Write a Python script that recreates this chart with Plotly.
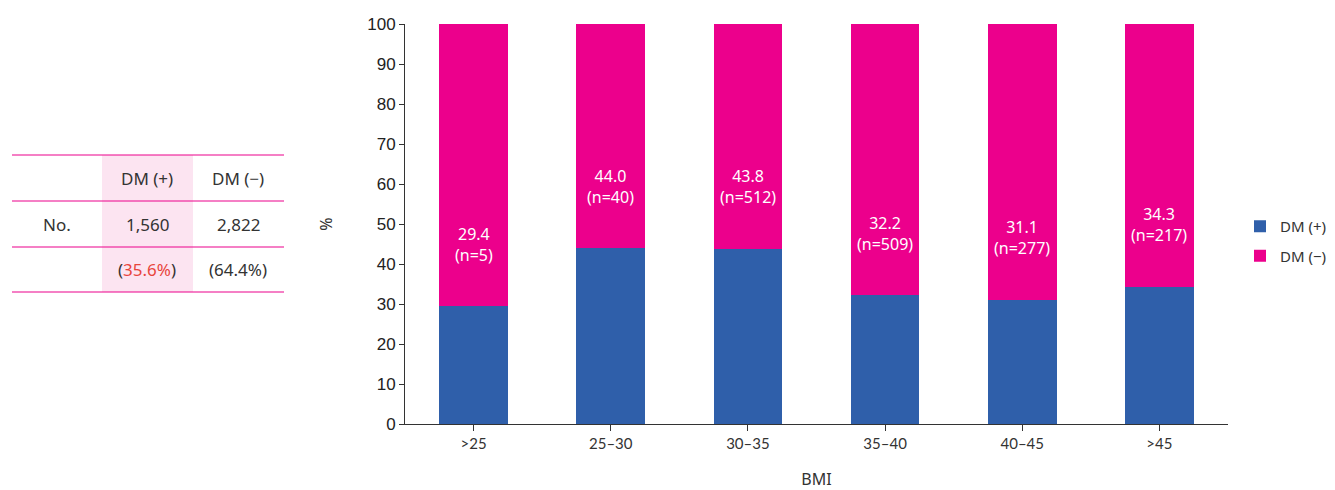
import plotly.graph_objects as go

categories = [">25", "25–30", "30–35", "35–40", "40–45", ">45"]
dm_pos = [29.4, 44.0, 43.8, 32.2, 31.1, 34.3]
dm_neg = [round(100 - v, 1) for v in dm_pos]
n_pos = [5, 40, 512, 509, 277, 217]
table_counts = ["1,560", "2,822"]
table_pcts = ["35.6%", "64.4%"]
y_ticks = [0, 10, 20, 30, 40, 50, 60, 70, 80, 90, 100]

BLUE = "#2f5faa"
PINK = "#ec008c"

L, R, T, B = 405, 1228, 24, 424
W, H = 1335, 490


def px(x):
    return (x - L) / (R - L)


def py(y):
    return (B - y) / (B - T)


fig = go.Figure()
fig.add_bar(x=categories, y=dm_pos, name="DM (+)", legendgroup="pos",
            marker=dict(color=BLUE, line=dict(width=0)), width=0.5)
fig.add_bar(x=categories, y=dm_neg, name="DM (−)", legendgroup="neg",
            marker=dict(color=PINK, line=dict(width=0)), width=0.5)

annotations = []
for c, v, n in zip(categories, dm_pos, n_pos):
    annotations.append(dict(x=c, y=v + 15.5, xref="x", yref="y",
                            text=f"{v:.1f}<br>(n={n})", showarrow=False,
                            font=dict(family="Noto Sans", size=16, color="white")))

# Table on the left
shapes = []
shapes.append(dict(type="rect", xref="paper", yref="paper", x0=px(102), x1=px(193), y0=py(155), y1=py(292),
                   fillcolor="#fce4f1", line=dict(width=0), layer="below"))
for yy in [155, 201, 247, 292]:
    shapes.append(dict(type="line", xref="paper", yref="paper", x0=px(12), x1=px(284), y0=py(yy), y1=py(yy),
                       line=dict(color=PINK, width=1.2)))

tfont = dict(family="Noto Sans", size=17, color="#333333")
cells = [
    (147, 178, "DM (+)"), (238, 178, "DM (−)"),
    (57, 224, "No."), (147, 224, table_counts[0]), (238, 224, table_counts[1]),
    (147, 269, f"(<span style='color:#e8453c'>{table_pcts[0]}</span>)"),
    (238, 269, f"({table_pcts[1]})"),
]
for x, y, t in cells:
    annotations.append(dict(x=px(x), y=py(y), xref="paper", yref="paper", text=t, showarrow=False,
                            xanchor="center", yanchor="middle", font=tfont))

fig.update_layout(
    width=W, height=H,
    barmode="stack",
    plot_bgcolor="white", paper_bgcolor="white",
    margin=dict(l=L, r=W - R, t=T, b=H - B, autoexpand=False),
    showlegend=True,
    legend=dict(xref="container", yref="container", x=1240 / W, y=1 - 241 / H,
                xanchor="left", yanchor="middle", traceorder="grouped",
                font=dict(family="Noto Sans", size=15, color="#333333"), tracegroupgap=7,
                itemwidth=30, bgcolor="rgba(0,0,0,0)"),
    annotations=annotations,
    shapes=shapes,
    xaxis=dict(showline=True, linecolor="#333333", linewidth=1, ticks="outside", ticklen=6,
               tickcolor="#333333", tickfont=dict(family="Lato", size=15, color="#333333"),
               automargin=False,
               title=dict(text="BMI", font=dict(family="Noto Sans", size=16, color="#333333"), standoff=28)),
    yaxis=dict(range=[0, 100], tickvals=y_ticks, showline=True, linecolor="#333333", linewidth=1,
               ticks="outside", ticklen=5, tickcolor="#333333", showgrid=False, zeroline=False,
               automargin=False,
               tickfont=dict(family="Liberation Sans", size=17, color="#222222"),
               title=dict(text="%", font=dict(family="Noto Sans", size=16, color="#333333"), standoff=30)),
)

fig.write_html("out.html")
